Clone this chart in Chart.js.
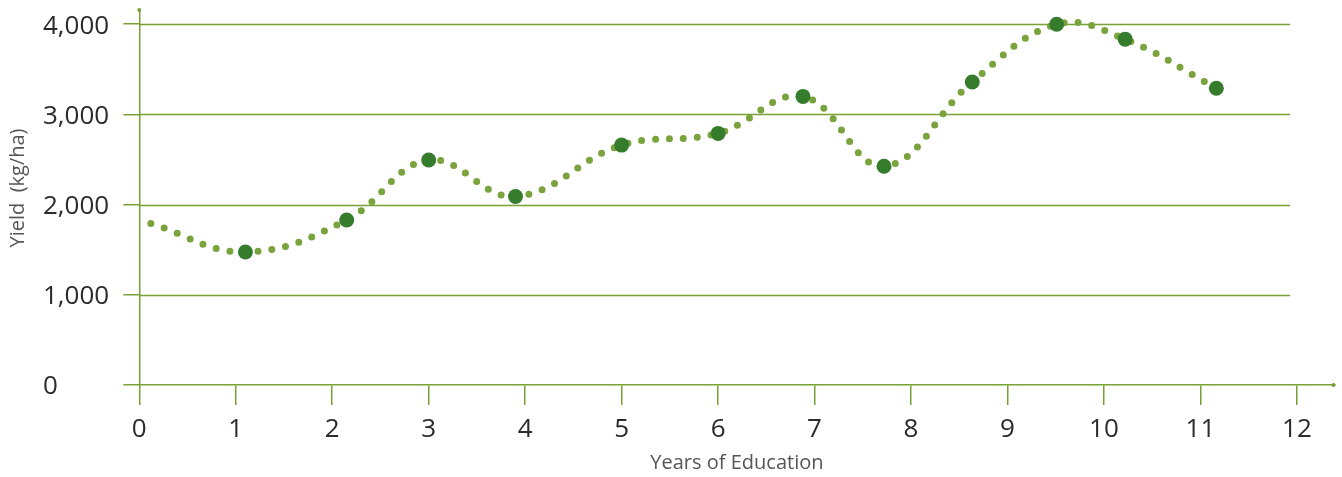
<!DOCTYPE html>
<html>
<head>
<meta charset="utf-8">
<script src="https://cdn.jsdelivr.net/npm/chart.js@4"></script>
<style>
  html, body { margin: 0; padding: 0; background: #ffffff; }
  #wrap { width: 1342px; height: 477px; position: relative; }
</style>
</head>
<body>
<div id="wrap"><canvas id="yieldChart"></canvas></div>
<script>
// Years of education vs yield
const years = [0.12, 1.1, 2.15, 3.0, 3.9, 5.0, 6.0, 6.88, 7.72, 8.635, 9.51, 10.22, 11.165];
const yields = [1790, 1475, 1830, 2495, 2090, 2660, 2790, 3200, 2425, 3360, 4000, 3835, 3290];
const xTicks = [0, 1, 2, 3, 4, 5, 6, 7, 8, 9, 10, 11, 12];
const yTicks = [0, 1000, 2000, 3000, 4000];

const GRID = '#77a135';
const DOT = '#7ba33d';
const MARKER = '#357c2d';
const FONT = "'Open Sans', 'Noto Sans', sans-serif";

// horizontal gridlines stop short of the x axis arrow, plus the small end dots
const axisDecor = {
    id: 'axisDecor',
    beforeDatasetsDraw(chart) {
        const { ctx, chartArea, scales } = chart;
        const x = scales.x, y = scales.y;
        const gridEnd = x.getPixelForValue(11.93);
        ctx.save();
        ctx.strokeStyle = GRID;
        ctx.lineWidth = 1.5;
        yTicks.forEach(v => {
            if (v === 0) return;
            const py = Math.round(y.getPixelForValue(v)) + 0.5;
            ctx.beginPath();
            ctx.moveTo(chartArea.left, py);
            ctx.lineTo(gridEnd, py);
            ctx.stroke();
        });
        ctx.fillStyle = GRID;
        ctx.beginPath();
        ctx.arc(chartArea.left, chartArea.top, 2, 0, Math.PI * 2);
        ctx.arc(chartArea.right - 1, chartArea.bottom, 2, 0, Math.PI * 2);
        ctx.fill();

        // y axis title
        ctx.translate(18, 188);
        ctx.rotate(-Math.PI / 2);
        ctx.font = '20px ' + FONT;
        ctx.fillStyle = '#555555';
        ctx.textAlign = 'center';
        ctx.textBaseline = 'middle';
        ctx.fillText('Yield  (kg/ha)', 0, 0);
        ctx.restore();
    }
};

new Chart(document.getElementById('yieldChart'), {
    type: 'line',
    data: {
        datasets: [{
            data: years.map((v, i) => ({ x: v, y: yields[i] })),
            borderColor: DOT,
            borderWidth: 7,
            borderDash: [0, 14],
            borderCapStyle: 'round',
            tension: 0.4,
            fill: false,
            pointRadius: ctx => ctx.dataIndex === 0 ? 0 : 7.5,
            pointBackgroundColor: MARKER,
            pointBorderColor: MARKER,
            pointBorderWidth: 0
        }]
    },
    options: {
        responsive: true,
        maintainAspectRatio: false,
        animation: false,
        events: [],
        layout: {
            padding: { left: 43, top: 10, right: 5, bottom: 0 }
        },
        plugins: {
            legend: { display: false },
            tooltip: { enabled: false }
        },
        scales: {
            x: {
                type: 'linear',
                min: 0,
                max: 12.39,
                afterBuildTicks: scale => { scale.ticks = xTicks.map(v => ({ value: v })); },
                afterFit: scale => {
                    scale.height = 92;
                    scale.paddingLeft = 0;
                    scale.paddingRight = 0;
                },
                grid: {
                    drawOnChartArea: false,
                    drawTicks: true,
                    tickLength: 20,
                    color: GRID,
                    lineWidth: 1.5
                },
                border: { display: true, color: GRID, width: 1.5 },
                ticks: {
                    padding: 9,
                    color: '#2b2b2b',
                    font: { family: FONT, size: 26 },
                    maxRotation: 0,
                    autoSkip: false
                },
                title: {
                    display: true,
                    text: 'Years of Education',
                    color: '#555555',
                    font: { family: FONT, size: 20 },
                    padding: { top: 0, bottom: 2 }
                }
            },
            y: {
                min: 0,
                max: 4158,
                afterBuildTicks: scale => { scale.ticks = yTicks.map(v => ({ value: v })); },
                afterFit: scale => {
                    scale.width = 96.3;
                    scale.paddingTop = 0;
                    scale.paddingBottom = 0;
                },
                grid: {
                    drawOnChartArea: false,
                    drawTicks: true,
                    tickLength: 16,
                    color: GRID,
                    lineWidth: 1.5
                },
                border: { display: true, color: GRID, width: 1.5 },
                ticks: {
                    crossAlign: 'far',
                    labelOffset: 2,
                    color: '#2b2b2b',
                    font: { family: FONT, size: 26 },
                    callback: v => v.toLocaleString('en-US')
                }
            }
        }
    },
    plugins: [axisDecor]
});
</script>
</body>
</html>
